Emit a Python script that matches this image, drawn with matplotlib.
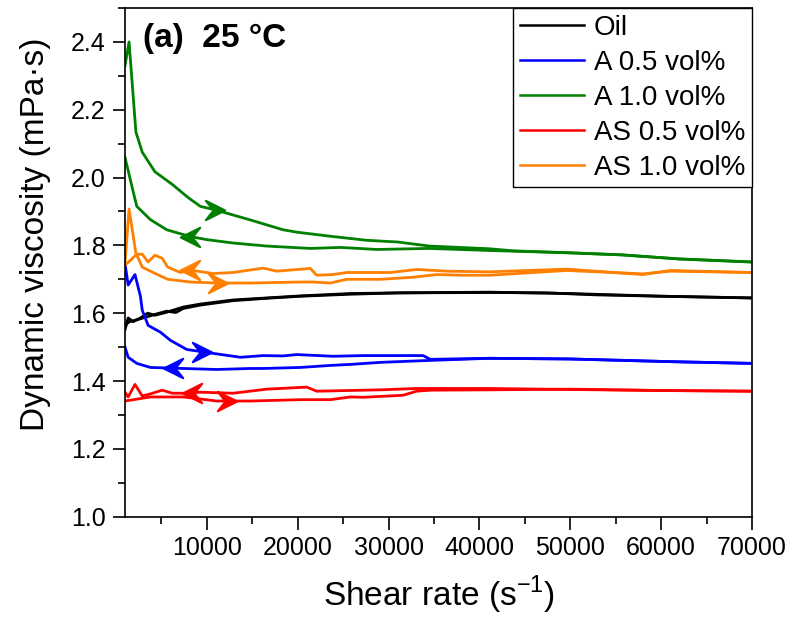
import numpy as np
import matplotlib
matplotlib.use("Agg")
import matplotlib.pyplot as plt
from matplotlib.path import Path
from matplotlib.ticker import MultipleLocator

plt.rcParams['font.family'] = ['Liberation Sans', 'DejaVu Sans']

# ---- data (shear rate in 1/s, viscosity in mPa.s) ----
# Oil
oil_up_x = [1000, 1350, 1900, 2700, 3500, 4300, 5600, 7400, 9300, 12900, 16600, 20300,
            25800, 31200, 41100, 47400, 52900, 58400, 70000]
oil_up_y = [1.551, 1.586, 1.575, 1.586, 1.600, 1.594, 1.603, 1.618, 1.627, 1.639, 1.645, 1.651,
            1.658, 1.660, 1.661, 1.660, 1.654, 1.651, 1.645]
oil_dn_x = [1000, 1500, 2500, 3500, 4500, 5600, 6600, 7400, 9300, 12900, 16600, 20300,
            25800, 31200, 41100, 50000, 60000, 70000]
oil_dn_y = [1.565, 1.575, 1.582, 1.590, 1.598, 1.606, 1.602, 1.614, 1.624, 1.637, 1.644, 1.650,
            1.656, 1.660, 1.662, 1.658, 1.650, 1.645]

# A 0.5 vol%
a05_up_x = [1000, 1350, 2100, 2700, 2900, 3550, 4900, 6000, 7800, 9300, 11100, 13700,
            16200, 18400, 19900, 23900, 27200, 33800, 34600, 41100, 50000, 61200, 70000]
a05_up_y = [1.747, 1.683, 1.714, 1.650, 1.609, 1.564, 1.544, 1.520, 1.493, 1.487, 1.480, 1.470,
            1.475, 1.474, 1.478, 1.473, 1.475, 1.475, 1.464, 1.467, 1.465, 1.457, 1.452]
a05_dn_x = [1000, 1350, 2300, 3800, 7400, 11100, 14800, 16200, 20300, 23600, 25800, 29100,
            33800, 41100, 50000, 61200, 70000]
a05_dn_y = [1.500, 1.470, 1.452, 1.440, 1.437, 1.434, 1.437, 1.437, 1.440, 1.446, 1.449, 1.455,
            1.460, 1.467, 1.465, 1.457, 1.452]

# A 1.0 vol%
a10_up_x = [1000, 1450, 2200, 2900, 4300, 6200, 8000, 9300, 10900, 14800, 18400, 19900,
            23900, 27600, 31000, 34500, 41100, 43700, 50000, 55700, 62000, 70000]
a10_up_y = [2.330, 2.400, 2.135, 2.075, 2.017, 1.980, 1.940, 1.915, 1.905, 1.875, 1.846, 1.839,
            1.826, 1.815, 1.810, 1.798, 1.790, 1.784, 1.778, 1.772, 1.760, 1.751]
a10_dn_x = [1000, 1800, 2300, 3800, 5600, 8200, 10000, 12900, 16600, 21400, 24700, 28700,
            34500, 41100, 50000, 55700, 62000, 70000]
a10_dn_y = [2.060, 1.970, 1.915, 1.876, 1.846, 1.826, 1.817, 1.807, 1.798, 1.791, 1.794, 1.788,
            1.791, 1.785, 1.778, 1.772, 1.760, 1.751]

# AS 0.5 vol%
as05_up_x = [1000, 3800, 7400, 9300, 11100, 14800, 20300, 23600, 25800, 27200, 31600, 33100,
             34600, 41100, 50000, 60000, 70000]
as05_up_y = [1.341, 1.353, 1.353, 1.347, 1.341, 1.341, 1.345, 1.345, 1.353, 1.352, 1.358, 1.370,
             1.373, 1.374, 1.376, 1.372, 1.370]
as05_dn_x = [1000, 1350, 2100, 2900, 3800, 5100, 6200, 7400, 9300, 12900, 16600, 18100,
             21000, 22100, 29100, 33100, 41100, 50000, 60000, 70000]
as05_dn_y = [1.367, 1.353, 1.390, 1.356, 1.362, 1.373, 1.364, 1.364, 1.367, 1.364, 1.376, 1.378,
             1.382, 1.370, 1.374, 1.378, 1.378, 1.375, 1.372, 1.370]

# AS 1.0 vol%
as10_up_x = [1000, 1450, 2200, 2900, 4100, 5700, 8200, 11100, 14800, 20300, 21700, 23600,
             25400, 29100, 32700, 35300, 38200, 41100, 49600, 58000, 61000, 70000]
as10_up_y = [1.747, 1.907, 1.777, 1.736, 1.720, 1.700, 1.692, 1.689, 1.689, 1.692, 1.692, 1.689,
             1.700, 1.700, 1.706, 1.714, 1.712, 1.712, 1.726, 1.716, 1.724, 1.720]
as10_dn_x = [1000, 2300, 2900, 3550, 4300, 5100, 5700, 7100, 8200, 10700, 12900, 16200,
             17700, 21400, 22100, 23900, 25400, 30200, 33100, 36400, 41100, 49600, 58000,
             61000, 70000]
as10_dn_y = [1.741, 1.774, 1.774, 1.751, 1.771, 1.762, 1.736, 1.720, 1.727, 1.717, 1.720, 1.733,
             1.724, 1.732, 1.712, 1.714, 1.720, 1.720, 1.729, 1.724, 1.722, 1.730, 1.714,
             1.726, 1.720]

# name, colour, up sweep, down sweep, arrow positions (shear rate) on each sweep
series = [
    ("Oil",         "#000000", oil_up_x, oil_up_y, oil_dn_x, oil_dn_y, None, None),
    ("A 0.5 vol%",  "#0000FF", a05_up_x, a05_up_y, a05_dn_x, a05_dn_y, 9500, 6300),
    ("A 1.0 vol%",  "#008000", a10_up_x, a10_up_y, a10_dn_x, a10_dn_y, 10900, 8200),
    ("AS 0.5 vol%", "#FF0000", as05_up_x, as05_up_y, as05_dn_x, as05_dn_y, 12200, 8400),
    ("AS 1.0 vol%", "#FF8000", as10_up_x, as10_up_y, as10_dn_x, as10_dn_y, 11200, 8200),
]

# arrowhead markers (Origin style)
head_r = Path([(-1, 1), (1, 0), (-1, -1), (-0.2, 0), (-1, 1)],
              [Path.MOVETO, Path.LINETO, Path.LINETO, Path.LINETO, Path.CLOSEPOLY])
head_l = Path([(1, 1), (-1, 0), (1, -1), (0.2, 0), (1, 1)],
              [Path.MOVETO, Path.LINETO, Path.LINETO, Path.LINETO, Path.CLOSEPOLY])

fig = plt.figure(figsize=(7.94, 6.18), dpi=100)
ax = fig.add_axes([0.1574, 0.164, 0.7897, 0.823])

for name, c, ux, uy, dx, dy, ar, al in series:
    ax.plot(ux, uy, color=c, lw=2.0, label=name)
    ax.plot(dx, dy, color=c, lw=2.0)
    if ar is not None:
        ax.plot([ar], [np.interp(ar, ux, uy)], ls='none', marker=head_r, ms=14, color=c,
                mew=1.5)
        ax.plot([al], [np.interp(al, dx, dy)], ls='none', marker=head_l, ms=14, color=c,
                mew=1.5)

ax.set_xlim(1000, 70000)
ax.set_ylim(1.0, 2.5)
ax.xaxis.set_major_locator(MultipleLocator(10000))
ax.xaxis.set_minor_locator(MultipleLocator(5000))
ax.yaxis.set_minor_locator(MultipleLocator(0.1))
ax.set_yticks(np.arange(1.0, 2.41, 0.2))
ax.tick_params(which='major', direction='out', length=9, width=1.2, labelsize=18, pad=5)
ax.tick_params(which='minor', direction='out', length=5, width=1.2)
for s in ax.spines.values():
    s.set_linewidth(1.2)

ax.set_xlabel("Shear rate (s$^{\\mathregular{-1}}$)", fontsize=24, labelpad=10)
ax.set_ylabel("Dynamic viscosity (mPa·s)", fontsize=24)
ax.yaxis.set_label_coords(-0.118, 0.555)

ax.text(0.029, 0.923, "(a)  25 °C", transform=ax.transAxes, fontsize=24,
        fontweight='bold', va='baseline', ha='left')

leg = ax.legend(loc='upper right', bbox_to_anchor=(1.0, 1.0), borderaxespad=0,
                fontsize=20, frameon=True, fancybox=False, framealpha=1,
                edgecolor='black', handlelength=2.3, handletextpad=0.35,
                labelspacing=0.32, borderpad=0.25)
leg.get_frame().set_linewidth(1.0)
for ln in leg.get_lines():
    ln.set_linewidth(1.8)

fig.savefig("out.png", dpi=100)
